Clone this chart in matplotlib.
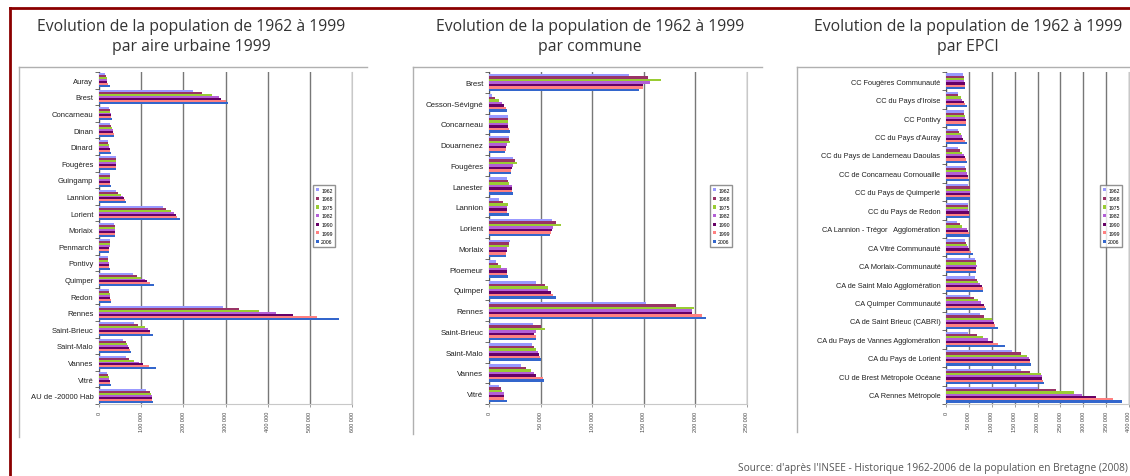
import matplotlib
matplotlib.use('Agg')
import numpy as np
from matplotlib import pyplot as plt
from matplotlib.lines import Line2D
from matplotlib.patches import Patch

plt.rcParams['font.family'] = ['Liberation Sans', 'DejaVu Sans']

years = ['1962', '1968', '1975', '1982', '1990', '1999', '2006']
colors = ['#9999ff', '#993366', '#99cc33', '#b35fd6', '#660066', '#ff8080', '#3366cc']

# population par aire urbaine (1962 ... 2006)
au_cats = ['Auray', 'Brest', 'Concarneau', 'Dinan', 'Dinard', 'Fougères', 'Guingamp',
           'Lannion', 'Lorient', 'Morlaix', 'Penmarch', 'Pontivy', 'Quimper', 'Redon',
           'Rennes', 'Saint-Brieuc', 'Saint-Malo', 'Vannes', 'Vitré', 'AU de -20000 Hab']
au_pop = [
    [15000, 16000, 18000, 19000, 20000, 22000, 25000],
    [222000, 244000, 269000, 285000, 289000, 301000, 306000],
    [23000, 25000, 27000, 28000, 28000, 29000, 30000],
    [27000, 29000, 31000, 33000, 34000, 35000, 36000],
    [21000, 22000, 23000, 24000, 25000, 26000, 29000],
    [40000, 41000, 41000, 41000, 41000, 41000, 41000],
    [25000, 26000, 27000, 27000, 27000, 27000, 28000],
    [40000, 45000, 52000, 57000, 60000, 62000, 65000],
    [151000, 160000, 170000, 178000, 183000, 186000, 192000],
    [36000, 38000, 39000, 39000, 38000, 38000, 38000],
    [26000, 26000, 25000, 25000, 24000, 24000, 24000],
    [21000, 22000, 22000, 23000, 24000, 24000, 25000],
    [80000, 90000, 100000, 110000, 115000, 120000, 131000],
    [23000, 24000, 25000, 26000, 27000, 28000, 29000],
    [293000, 332000, 380000, 419000, 461000, 517000, 569000],
    [84000, 92000, 108000, 116000, 120000, 122000, 128000],
    [57000, 63000, 67000, 69000, 72000, 74000, 75000],
    [65000, 72000, 84000, 96000, 104000, 118000, 134000],
    [19000, 21000, 23000, 24000, 26000, 27000, 28000],
    [112000, 120000, 124000, 125000, 126000, 126000, 128000],
]

# population par commune
com_cats = ['Brest', 'Cesson-Sévigné', 'Concarneau', 'Douarnenez', 'Fougères', 'Lanester',
            'Lannion', 'Lorient', 'Morlaix', 'Ploemeur', 'Quimper', 'Rennes',
            'Saint-Brieuc', 'Saint-Malo', 'Vannes', 'Vitré']
com_pop = [
    [136000, 154000, 167000, 156000, 149000, 149000, 145000],
    [3000, 6000, 10000, 13000, 15000, 16000, 17000],
    [18000, 18500, 18800, 18700, 18600, 19500, 20000],
    [19000, 19500, 20000, 17800, 16500, 16300, 15800],
    [23500, 25500, 27000, 23200, 22200, 21800, 21000],
    [17000, 18000, 19000, 22000, 22000, 22500, 23000],
    [10000, 13500, 18000, 17000, 17000, 17500, 19000],
    [61000, 65000, 70000, 62000, 61000, 60000, 59000],
    [20000, 19500, 19500, 17000, 17000, 16500, 16000],
    [6500, 9000, 12000, 17000, 17500, 17500, 18000],
    [46000, 54000, 57000, 57000, 60000, 62000, 65000],
    [152000, 181000, 199000, 197000, 197000, 206000, 210000],
    [43000, 50000, 54000, 46000, 44000, 46000, 46000],
    [42000, 44000, 46000, 47000, 48000, 49000, 50000],
    [31000, 36000, 41000, 44000, 46000, 52000, 53000],
    [10000, 12000, 13000, 14500, 14500, 15000, 17000],
]

# population par EPCI
epci_cats = ['CC Fougères Communauté', "CC du Pays d'Iroise", 'CC Pontivy',
             "CC du Pays d'Auray", 'CC du Pays de Landerneau Daoulas',
             'CC de Concarneau Cornouaille', 'CC du Pays de Quimperlé', 'CC du Pays de Redon',
             'CA Lannion - Trégor   Agglomération', 'CA Vitré Communauté',
             'CA Morlaix-Communauté', 'CA de Saint Malo Agglomération',
             'CA Quimper Communauté', 'CA de Saint Brieuc (CABRI)',
             'CA du Pays de Vannes Agglomération', 'CA du Pays de Lorient',
             'CU de Brest Métropole Océane', 'CA Rennes Métropole']
epci_pop = [
    [37000, 39000, 40000, 40000, 40500, 40500, 42000],
    [27000, 27000, 32000, 36000, 39000, 41000, 45000],
    [39000, 40000, 41000, 42000, 43000, 43000, 44000],
    [27000, 29000, 32000, 34000, 38000, 41000, 46000],
    [27000, 30000, 34000, 39000, 41000, 43000, 46000],
    [41000, 44000, 44000, 46000, 49000, 49000, 51000],
    [49000, 52000, 52000, 52000, 52000, 52000, 52000],
    [49000, 49000, 49000, 49000, 51000, 51000, 52000],
    [23000, 30000, 36000, 45000, 49000, 51000, 52000],
    [41000, 43000, 45000, 47000, 51000, 55000, 60000],
    [63000, 65000, 66000, 67000, 66000, 65000, 65000],
    [63000, 67000, 70000, 74000, 78000, 80000, 81000],
    [52000, 62000, 70000, 76000, 82000, 85000, 88000],
    [75000, 84000, 100000, 103000, 105000, 108000, 114000],
    [49000, 67000, 80000, 92000, 103000, 114000, 128000],
    [145000, 164000, 177000, 181000, 184000, 184000, 186000],
    [165000, 184000, 208000, 210000, 210000, 213000, 214000],
    [200000, 240000, 280000, 298000, 327000, 365000, 385000],
]

title1 = 'Evolution de la population de 1962 à 1999'
source = "Source: d'après l'INSEE - Historique 1962-2006 de la population en Bretagne (2008)"

W, H = 1130, 477
fig = plt.figure(figsize=(W / 100, H / 100), dpi=100)


def fx(px):
    return px / W


def fy(py):
    return 1 - py / H


def fmt(v):
    v = int(v)
    if v == 0:
        return '0'
    return '{:,}'.format(v).replace(',', ' ')


def draw_panel(rect, cats, pop, xmax, step, labsize, leg_px):
    left, right, top, bottom = rect
    ax = fig.add_axes([fx(left), fy(bottom), fx(right - left), (bottom - top) / H])
    pop = np.array(pop)
    n = len(cats)
    h = 0.84 / len(years)
    for j, yr in enumerate(years):
        y = np.arange(n) - 0.42 + h * (j + 0.5)
        ax.barh(y, pop[:, j], height=h, color=colors[j], label=yr, zorder=3)
    ax.set_ylim(n - 0.5, -0.5)
    ax.set_xlim(0, xmax)
    ax.set_yticks(np.arange(n))
    ax.set_yticklabels(cats, fontsize=labsize, color='#222222')
    ax.set_yticks(np.arange(n + 1) - 0.5, minor=True)
    ax.tick_params(axis='y', which='major', length=0, pad=4)
    ax.tick_params(axis='y', which='minor', length=3, width=0.6, color='#555555')
    xt = np.arange(0, xmax + 1, step)
    ax.set_xticks(xt)
    ax.set_xticklabels([fmt(v) for v in xt], rotation=90, fontsize=4, color='#444444')
    ax.tick_params(axis='x', length=2, width=0.5, color='#777777', pad=3)
    ax.grid(axis='x', color='#777777', linewidth=1.0, zorder=0)
    ax.spines['top'].set_visible(False)
    ax.spines['right'].set_color('#c8c8c8')
    ax.spines['bottom'].set_color('#c8c8c8')
    ax.spines['left'].set_color('#555555')
    ax.spines['left'].set_linewidth(0.8)
    handles = [Patch(facecolor=c, edgecolor='none') for c in colors]
    lx, ly = leg_px
    fig.legend(handles, years, loc='upper left', bbox_to_anchor=(fx(lx), fy(ly)),
               fontsize=3.7, frameon=True, fancybox=False, edgecolor='#777777',
               handlelength=0.6, handleheight=0.6, handletextpad=0.5,
               labelspacing=0.7, borderpad=0.5, borderaxespad=0)
    return ax


draw_panel((99, 352, 73, 405), au_cats, au_pop, 600000, 100000, 5.5, (313, 186))
draw_panel((489, 747, 73, 405), com_cats, com_pop, 250000, 50000, 5.7, (710, 186))
draw_panel((946, 1129, 73, 405), epci_cats, epci_pop, 400000, 50000, 5.3, (1100, 186))

# titres
for cx, sub in [(191, 'par aire urbaine 1999'), (590, 'par commune'), (968, 'par EPCI')]:
    fig.text(fx(cx), fy(27), title1, ha='center', va='center', fontsize=11.3,
             color='#333333', family='Open Sans')
    fig.text(fx(cx), fy(47), sub, ha='center', va='center', fontsize=11.3,
             color='#333333', family='Open Sans')

# cadres des graphiques
for x0, x1, yb in [(19, 367, 438), (413, 762, 435), (797, 1130, 433)]:
    fig.add_artist(Line2D([fx(x0), fx(x1)], [fy(68), fy(68)], color='#b0b0b0', lw=1))
    fig.add_artist(Line2D([fx(x0), fx(x0)], [fy(68), fy(yb)], color='#b0b0b0', lw=1))

# bordure rouge
fig.add_artist(Line2D([fx(10), fx(10)], [fy(9), 0], color='#8b0000', lw=2))
fig.add_artist(Line2D([fx(10), 1], [fy(9), fy(9)], color='#8b0000', lw=2))

fig.text(fx(1128), fy(469), source, ha='right', va='center', fontsize=7.3,
         color='#555555', family='Open Sans')

fig.savefig('out.png', dpi=100)
